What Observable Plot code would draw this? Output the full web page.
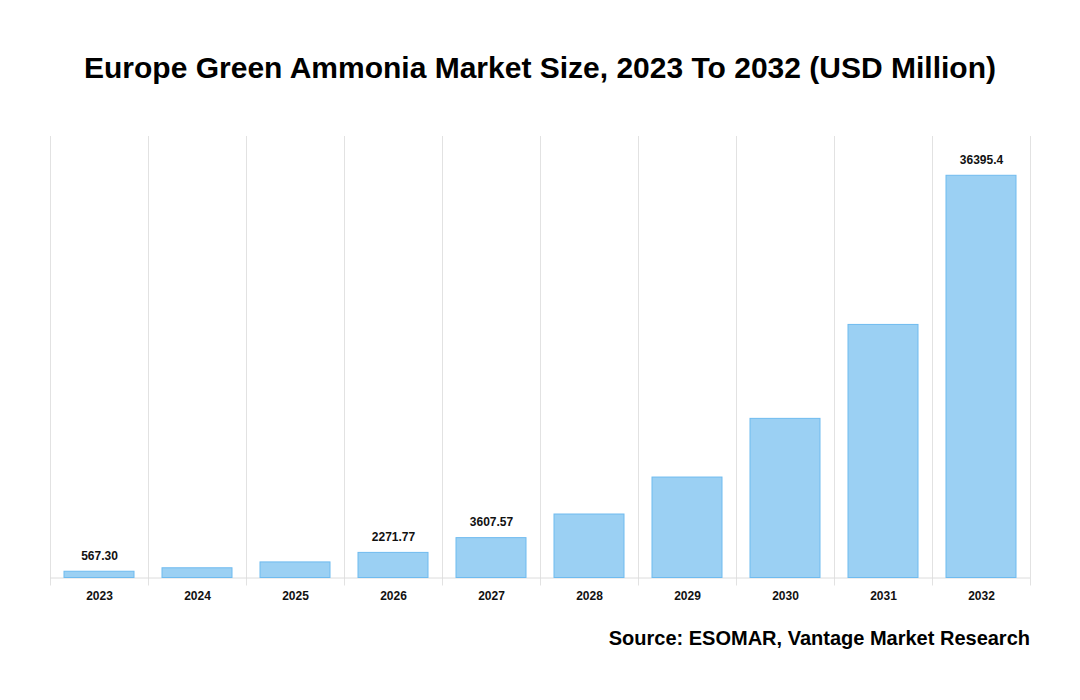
<!DOCTYPE html>
<html>
<head>
<meta charset="utf-8">
<script src="https://cdn.jsdelivr.net/npm/d3@7"></script>
<script src="https://cdn.jsdelivr.net/npm/@observablehq/plot@0.6"></script>
<style>
  body { margin: 0; background: #fff; font-family: "Liberation Sans", Arial, sans-serif; }
  #wrap { width: 1080px; height: 700px; position: relative; }
  #title { height: 110px; line-height: 136px; text-align: center; font-weight: bold; font-size: 30px; color: #000; }
  #source { position: absolute; right: 50px; top: 627px; font-weight: bold; font-size: 20px; color: #000; }
  svg { display: block; }
</style>
</head>
<body>
<div id="wrap">
  <div id="title">Europe Green Ammonia Market Size, 2023 To 2032 (USD Million)</div>
  <div id="chart"></div>
  <div id="source">Source: ESOMAR, Vantage Market Research</div>
</div>
<script>
const years = [2023, 2024, 2025, 2026, 2027, 2028, 2029, 2030, 2031, 2032];
const values = [567.30, 880, 1410, 2271.77, 3607.57, 5745, 9090, 14400, 22900, 36395.4];
const labelYears = [2023, 2026, 2027, 2032];
const labelTexts = ["567.30", "2271.77", "3607.57", "36395.4"];

const data = years.map((y, i) => ({year: y, value: values[i]}));
const labels = labelYears.map((y, i) => ({year: y, value: values[years.indexOf(y)], text: labelTexts[i]}));
const bounds = years.map(y => y - 0.5).concat([years[years.length - 1] + 0.5]);

const chart = Plot.plot({
  width: 1080,
  height: 508,
  marginLeft: 50,
  marginRight: 50,
  marginTop: 26,
  marginBottom: 40.5,
  style: {fontFamily: "'Liberation Sans', Arial, sans-serif", fontSize: "12px", color: "#000", background: "#fff"},
  x: {domain: [years[0] - 0.5, years[years.length - 1] + 0.5], axis: null},
  y: {domain: [0, 39950], axis: null},
  marks: [
    Plot.ruleX(bounds, {x: d => d, y1: 39950, y2: 0, stroke: "#e2e2e2", strokeWidth: 1, insetBottom: -8}),
    Plot.ruleY([0], {stroke: "#dcdcdc", strokeWidth: 1}),
    Plot.rectY(data, {x1: d => d.year - 0.5, x2: d => d.year + 0.5, y: "value", insetLeft: 14, insetRight: 14, fill: "#9bd0f3", stroke: "#6fbbef", strokeWidth: 1}),
    Plot.text(labels, {x: "year", y: "value", text: "text", dy: -16, fontWeight: "bold", fontSize: 12, fill: "#111"}),
    Plot.text(years, {x: d => d, y: 0, text: d => String(d), dy: 18, fontWeight: "bold", fontSize: 12, fill: "#111"})
  ]
});
document.getElementById("chart").appendChild(chart);
</script>
</body>
</html>
